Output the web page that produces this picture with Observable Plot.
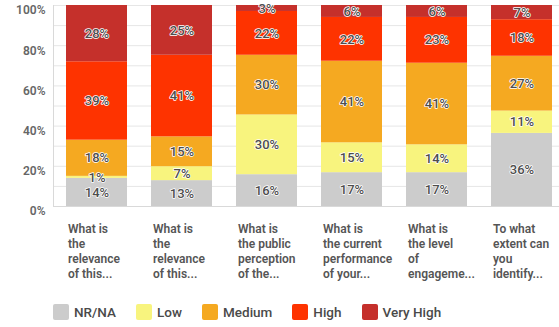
<!DOCTYPE html>
<html>
<head>
<meta charset="utf-8">
<script src="https://cdn.jsdelivr.net/npm/d3@7"></script>
<script src="https://cdn.jsdelivr.net/npm/@observablehq/plot@0.6"></script>
<style>
  body { margin: 0; background: #fff; font-family: Roboto, sans-serif; }
  #legend { display: flex; align-items: center; padding-left: 53px; margin-top: 14px; height: 16px; }
  .item { display: flex; align-items: center; margin-right: 20px; font-size: 13.5px; font-weight: 500; color: #4a4a4a; }
  .sw { width: 16px; height: 16px; border-radius: 2px; margin-right: 5px; }
</style>
</head>
<body>
<div id="chart"></div>
<div id="legend"></div>
<script>
const questions = ["Q1", "Q2", "Q3", "Q4", "Q5", "Q6"];
const tickLabels = [
  "What is\nthe\nrelevance\nof this...",
  "What is\nthe\nrelevance\nof this...",
  "What is\nthe public\nperception\nof the...",
  "What is\nthe current\nperformance\nof your...",
  "What is\nthe level\nof\nengageme...",
  "To what\nextent can\nyou\nidentify..."
];
const levels = ["NR/NA", "Low", "Medium", "High", "Very High"];
const colors = ["#cccccc", "#f8f47e", "#f5a921", "#fe3300", "#c5302b"];
const nrna     = [14, 13, 16, 17, 17, 36];
const low      = [1, 7, 30, 15, 14, 11];
const medium   = [18, 15, 30, 41, 41, 27];
const high     = [39, 41, 22, 22, 23, 18];
const veryHigh = [28, 25, 3, 6, 6, 7];
const yTicks = [0, 0.2, 0.4, 0.6, 0.8, 1];
const gridTicks = [0, 0.1, 0.2, 0.3, 0.4, 0.5, 0.6, 0.7, 0.8, 0.9, 1];

const series = [nrna, low, medium, high, veryHigh];
const data = [];
questions.forEach((q, i) => {
  levels.forEach((lev, j) => data.push({q, level: lev, v: series[j][i]}));
});
const labelOf = new Map(questions.map((q, i) => [q, tickLabels[i]]));

const plot = Plot.plot({
  width: 559,
  height: 290,
  marginTop: 5,
  marginBottom: 84,
  marginLeft: 53,
  marginRight: 0,
  style: {fontFamily: "Roboto, sans-serif"},
  x: {domain: questions, range: [56, 561], paddingInner: 0.2824, paddingOuter: 0.1117, label: null},
  y: {domain: [0, 1], label: null},
  color: {domain: levels, range: colors},
  marks: [
    Plot.gridY(gridTicks, {stroke: "#e6e6e6", strokeOpacity: 1}),
    Plot.barY(data, Plot.stackY({offset: "normalize", x: "q", y: "v", fill: "level"})),
    Plot.text(data, Plot.stackY({offset: "normalize", x: "q", y: "v", z: "level",
      text: d => d.v + "%", fill: "#4d4d4d", stroke: "white", strokeWidth: 1.5,
      fontSize: 13, fontWeight: 500})),
    Plot.ruleY([0], {stroke: "#d9d9d9"}),
    Plot.frame({anchor: "left", stroke: "#d9d9d9"}),
    Plot.axisY(yTicks, {tickSize: 0, tickPadding: 8, dy: 5, tickFormat: d3.format(".0%"),
      fill: "#666", fontSize: 12, fontWeight: 600}),
    Plot.axisX({tickSize: 0, tickPadding: 16, tickFormat: q => labelOf.get(q),
      textAnchor: "start", dx: -29, lineHeight: 1.25, lineAnchor: "top",
      fill: "#555", fontSize: 12, fontWeight: 600})
  ]
});
document.getElementById("chart").appendChild(plot);

const legend = document.getElementById("legend");
levels.forEach((lev, j) => {
  const item = document.createElement("div");
  item.className = "item";
  const sw = document.createElement("div");
  sw.className = "sw";
  sw.style.background = colors[j];
  item.appendChild(sw);
  const t = document.createElement("span");
  t.textContent = lev;
  item.appendChild(t);
  legend.appendChild(item);
});
</script>
</body>
</html>
